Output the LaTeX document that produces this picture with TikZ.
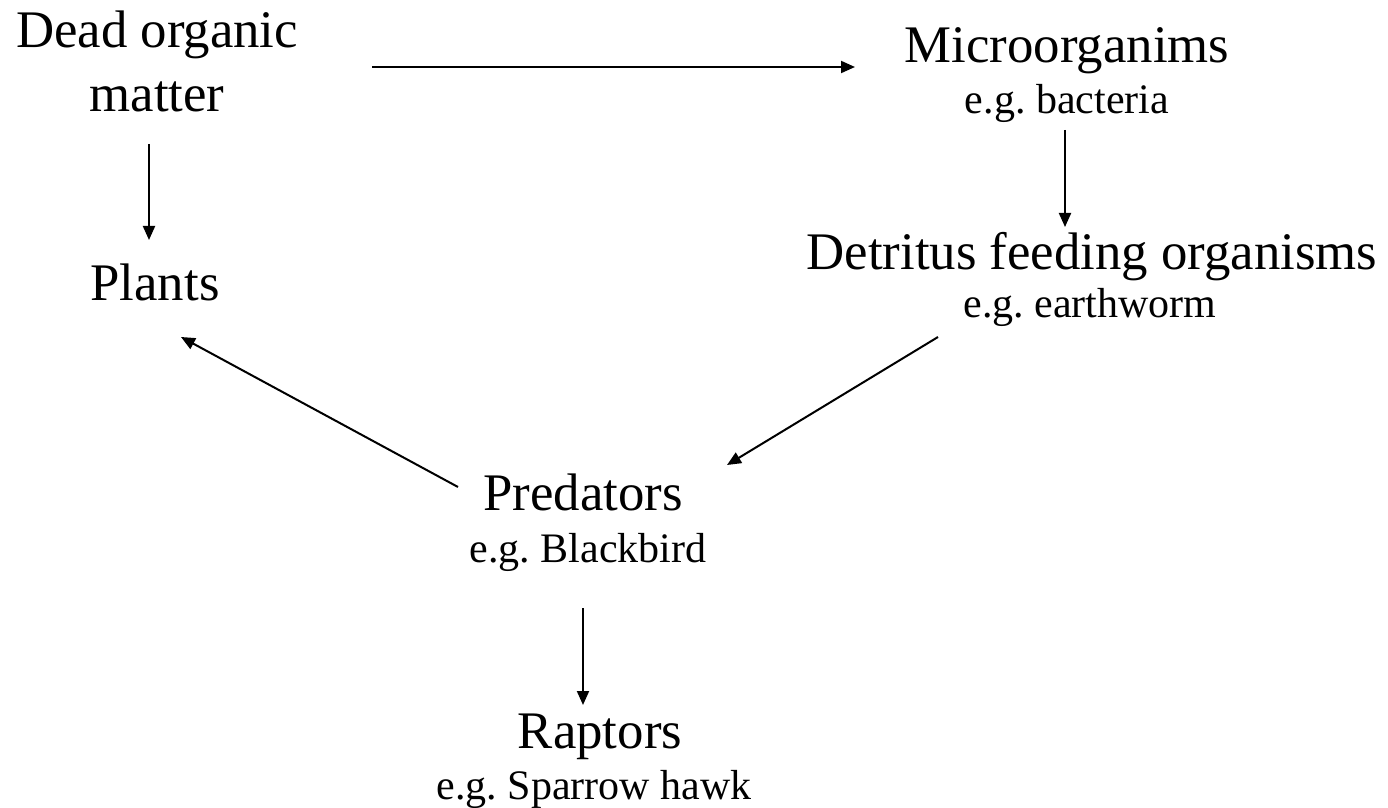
\documentclass[tikz,border=0pt]{standalone}
\usepackage{fontspec}
\setmainfont{Liberation Serif}
\usetikzlibrary{arrows.meta,calc}
\frenchspacing
\tikzset{
  big/.style={inner sep=0pt, anchor=base, font=\fontsize{26.4}{30}\selectfont},
  small/.style={inner sep=0pt, anchor=base, font=\fontsize{21}{24}\selectfont},
  arr/.style={line width=1pt, -{Triangle[length=7pt,width=6pt]}}
}
\begin{document}
\begin{tikzpicture}[x=0.5pt,y=-0.5pt]
\useasboundingbox (0,0) rectangle (1388,808);
\node[big]   (dom1) at (157,48)  {Dead organic};
\node[big]   (dom2) at (157,112) {matter};
\node[big]   (mic1) at (1067,63) {Microorganims};
\node[small] (mic2) at (1067,114) {e.g. bacteria};
\node[big]   (det1) at (1092,270) {Detritus feeding organisms};
\node[small] (det2) at (1090,317) {e.g. earthworm};
\node[big]   (pla)  at (155,300) {Plants};
\node[big]   (pre1) at (583,510) {Predators};
\node[small] (pre2) at (588,562) {e.g. Blackbird};
\node[big]   (rap1) at (600,748) {Raptors};
\node[small] (rap2) at (594,799) {e.g. Sparrow hawk};

\draw[arr] ($(dom1.base)+(215,19)$) -- ($(mic1.base)+(-212,4)$);
\draw[arr] ($(dom2.base)+(-8,32)$) -- ($(pla.base)+(-6,-60)$);
\draw[arr] ($(mic2.base)+(-2,16)$) -- ($(det1.base)+(-27,-43)$);
\draw[arr] ($(det2.base)+(-152,20)$) -- ($(pre1.base)+(144,-45)$);
\draw[arr] ($(pre1.base)+(-125,-23)$) -- ($(pla.base)+(26,37)$);
\draw[arr] ($(pre2.base)+(-5,46)$) -- ($(rap1.base)+(-17,-43)$);
\end{tikzpicture}
\end{document}
